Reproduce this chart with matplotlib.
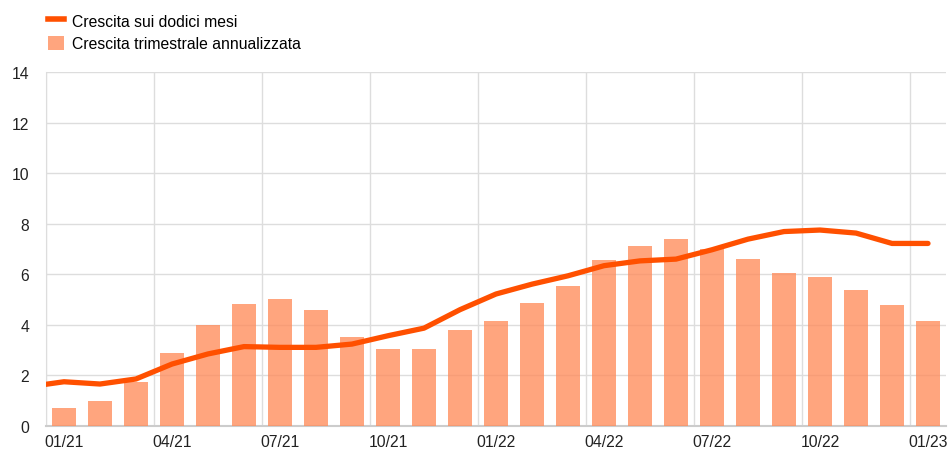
import numpy as np
import matplotlib.pyplot as plt
from matplotlib.lines import Line2D
from matplotlib.patches import Patch

plt.rcParams['font.family'] = ['Liberation Sans', 'DejaVu Sans']

# monthly data, 01/21 .. 01/23
months = ['01/21', '02/21', '03/21', '04/21', '05/21', '06/21', '07/21', '08/21', '09/21',
          '10/21', '11/21', '12/21', '01/22', '02/22', '03/22', '04/22', '05/22', '06/22',
          '07/22', '08/22', '09/22', '10/22', '11/22', '12/22', '01/23']
quarterly_ann = [0.71, 0.99, 1.75, 2.89, 3.99, 4.83, 5.02, 4.58, 3.53, 3.06, 3.04, 3.79,
                 4.16, 4.87, 5.52, 6.57, 7.12, 7.39, 6.99, 6.60, 6.06, 5.90, 5.38, 4.78, 4.14]
# twelve-month growth, first value is 12/20 (partly off the left edge)
twelve_month = [1.55, 1.75, 1.66, 1.86, 2.45, 2.85, 3.14, 3.11, 3.11, 3.24, 3.57, 3.87, 4.60,
                5.22, 5.61, 5.94, 6.34, 6.53, 6.60, 6.97, 7.39, 7.69, 7.75, 7.63, 7.22, 7.22]

line_col = '#ff5000'
bar_col = '#ff8c5a'
fs = 11.3

fig = plt.figure(figsize=(9.49, 4.52), dpi=100)
ax = fig.add_axes([46 / 949, 25 / 452, 900 / 949, 354 / 452])

x = np.arange(len(months))
ax.bar(x, quarterly_ann, width=0.67, color=bar_col, alpha=0.78, zorder=3, linewidth=0)
xl = np.arange(-1, len(months))
ax.plot(xl, twelve_month, color=line_col, lw=3.8, solid_capstyle='round',
        solid_joinstyle='round', zorder=4)

ax.set_xlim(-0.5, len(months) - 0.5)
ax.set_ylim(0, 14)
ax.set_yticks(range(0, 15, 2))

ax.set_xticks(np.arange(-0.5, len(months), 3), minor=False)
ax.set_xticklabels([])
ax.set_xticks(x[::3], minor=True)
ax.set_xticklabels(months[::3], minor=True)
ax.tick_params(axis='x', which='both', length=0, pad=6, labelsize=fs, colors='#222222')
ax.tick_params(axis='y', length=0, pad=12, labelsize=fs, colors='#222222')

ax.grid(True, which='major', color='#dddddd', lw=1, zorder=0)
ax.set_axisbelow(True)
for s in ['top', 'right']:
    ax.spines[s].set_visible(False)
ax.spines['left'].set_color('#dddddd')
ax.spines['bottom'].set_color('#cccccc')
ax.spines['bottom'].set_linewidth(1.5)

handles = [Line2D([], [], color=line_col, lw=4),
           Patch(facecolor=bar_col, alpha=0.78, edgecolor='none')]
labels = ['Crescita sui dodici mesi', 'Crescita trimestrale annualizzata']
fig.legend(handles, labels, loc='upper left', bbox_to_anchor=(34 / 949, 1.0),
           frameon=False, fontsize=fs, handlelength=1.0, handleheight=1.0,
           handletextpad=0.5, labelspacing=0.45, borderaxespad=0.5)

plt.savefig('out.png', dpi=100)
